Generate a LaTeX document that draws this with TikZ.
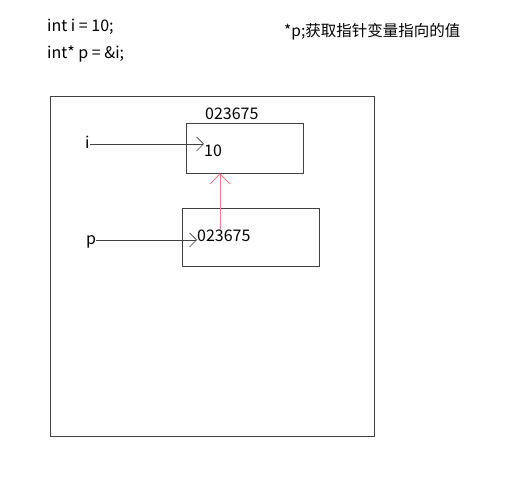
\documentclass[tikz,border=0pt]{standalone}
\usepackage{fontspec}
\setmainfont{Noto Sans CJK SC}
\usetikzlibrary{positioning,arrows.meta,calc}
\definecolor{colPuntero}{HTML}{F47C86}
\definecolor{colLinea}{HTML}{404040}

\begin{document}
\begin{tikzpicture}[x=1pt,y=-1pt,
        txt/.style={inner sep=0pt, anchor=base west, font=\fontsize{16}{18}\selectfont},
        box/.style={draw=colLinea, line width=0.9pt, minimum width=#1, inner sep=0pt},
        arr/.style={-{Straight Barb[length=7pt,width=14pt]}, draw=colLinea, line width=0.7pt},
        ptr/.style={-{Straight Barb[length=10pt,width=20pt]}, draw=colPuntero, line width=0.8pt}
    ]
    \useasboundingbox (0,0) rectangle (515,478);

    % Codigo
    \node[txt] (decl) at (47,32) {int i = 10;};
    \node[txt] (decp) at (47,59) {int* p = \&i;};
    \node[txt, font=\fontsize{15.5}{18}\selectfont] (nota) at (284,37) {*p;获取指针变量指向的值};

    % Memoria
    \node[box=324pt, minimum height=340pt] (mem) at (212,266) {};
    \node[box=117pt, minimum height=50pt] (ibox) at (244.5,148) {};
    \node[box=137pt, minimum height=58pt] (pbox) at (250.5,237) {};

    % Etiquetas
    \node[txt] (iaddr) at (205,120) {023675};
    \node[txt] (ival) at (204,157) {10};
    \node[txt] (pval) at (197,242) {023675};
    \node[txt] (iname) at (85,149) {i};
    \node[txt] (pname) at (86,245) {p};

    % Conexiones
    \draw[arr] (iname.east |- 0,144) -- (ival.west |- 0,144);
    \draw[arr] (pname.east |- 0,240) -- (pval.west |- 0,240);
    \coordinate (src) at (220,229);
    \draw[ptr] (src) -- (src |- ibox.south);

\end{tikzpicture}
\end{document}
